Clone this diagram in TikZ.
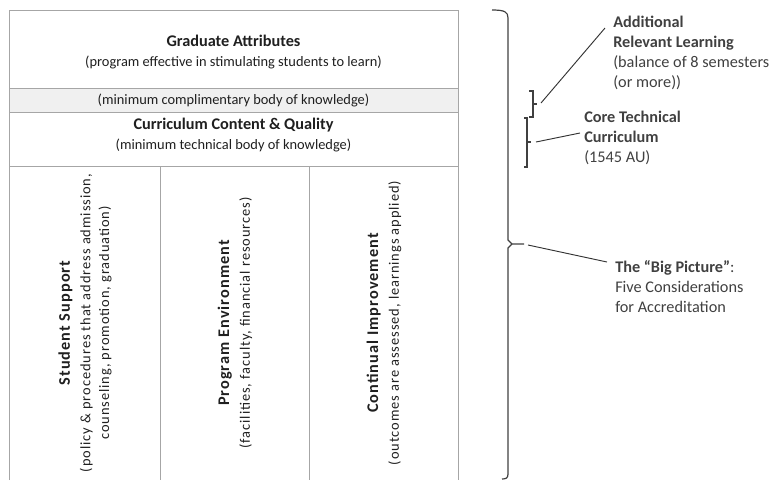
\documentclass[tikz,border=0pt]{standalone}
\usepackage{fontspec}
\setmainfont{Carlito}
\newfontfamily\spacedfont[LetterSpace=6.5]{Carlito}
\usetikzlibrary{positioning,calc}
\definecolor{boxgray}{HTML}{A6A6A6}
\definecolor{bandgray}{HTML}{F0F0F0}
\definecolor{inkgray}{HTML}{404040}
\newcommand{\boxhead}[1]{{\fontsize{12.2}{15}\selectfont\bfseries #1}}
\tikzset{
	boxtext/.style={align=center, inner sep=0pt, text=black!88,
			font=\fontsize{10.8}{15}\selectfont},
	coltext/.style={boxtext, rotate=90, font=\spacedfont\fontsize{10.8}{14}\selectfont},
	sidetext/.style={align=left, anchor=north west, inner sep=0pt, text=inkgray,
			font=\fontsize{12.2}{15}\selectfont},
	bracket/.style={draw=inkgray, line width=0.9pt},
	leader/.style={draw=black!80, line width=0.7pt}
}

\begin{document}
\begin{tikzpicture}[x=0.75pt,y=-0.75pt]
		\useasboundingbox (0,0) rectangle (771,480);
		% the five considerations
		\fill[fill=bandgray] (9,88) rectangle (458,112);
		\draw [boxgray] (9,480) -- (9,10) -- (458,10) -- (458,480);
		\draw [boxgray] (9,88) -- (458,88) (9,112) -- (458,112) (9,166) -- (458,166);
		\draw [boxgray] (160,166) -- (160,480) (309,166) -- (309,480);
		\node [boxtext] (grad) at (233.5,52) {\boxhead{Graduate Attributes}\\(program effective in stimulating students to learn)};
		\node [boxtext] (compl) at (233.5,100) {(minimum complimentary body of knowledge)};
		\node [boxtext] (curr) at (233.5,135) {\boxhead{Curriculum Content \& Quality}\\(minimum technical body of knowledge)};
		\node [coltext] (support) at (85,323) {\boxhead{Student Support}\\[1.5pt](policy \& procedures that address admission,\\counseling, promotion, graduation)};
		\node [coltext] (environ) at (235,323) {\boxhead{Program Environment}\\[1.5pt](facilities, faculty, financial resources)};
		\node [coltext] (improve) at (384,323) {\boxhead{Continual Improvement}\\[1.5pt](outcomes are assessed, learnings applied)};
		% brackets
		\draw [bracket] (492,10) .. controls (505,10) and (508,12) .. (508,18) -- (508,240) -- (512,244) -- (524,244)
			(512,244) -- (508,248) -- (508,474) .. controls (508,478) and (506,479) .. (502,479);
		\draw [bracket] (529,91) -- (533,91) -- (533,117) -- (529,117) (533,104) -- (537,104);
		\draw [bracket] (524,118) -- (527,118) -- (527,167) -- (524,167) (527,142) -- (531,142);
		\coordinate (addltip) at (541,103);
		\coordinate (coretip) at (536,142);
		\coordinate (bigtip) at (528,245);
		% labels
		\node [sidetext] (addl) at (613,16) {\textbf{Additional}\\\textbf{Relevant Learning}\\(balance of 8 semesters\\(or more))};
		\node [sidetext] (core) at (584,111) {\textbf{Core Technical}\\\textbf{Curriculum}\\(1545 AU)};
		\node [sidetext] (big) at (615,260) {\textbf{The “Big Picture”}:\\Five Considerations\\for Accreditation};
		\coordinate (addlend) at (605,28);
		\coordinate (coreend) at (580,133);
		\coordinate (bigend) at (607,262);
		\draw [leader] (addltip) -- (addlend);
		\draw [leader] (coretip) -- (coreend);
		\draw [leader] (bigtip) -- (bigend);
	\end{tikzpicture}
\end{document}
